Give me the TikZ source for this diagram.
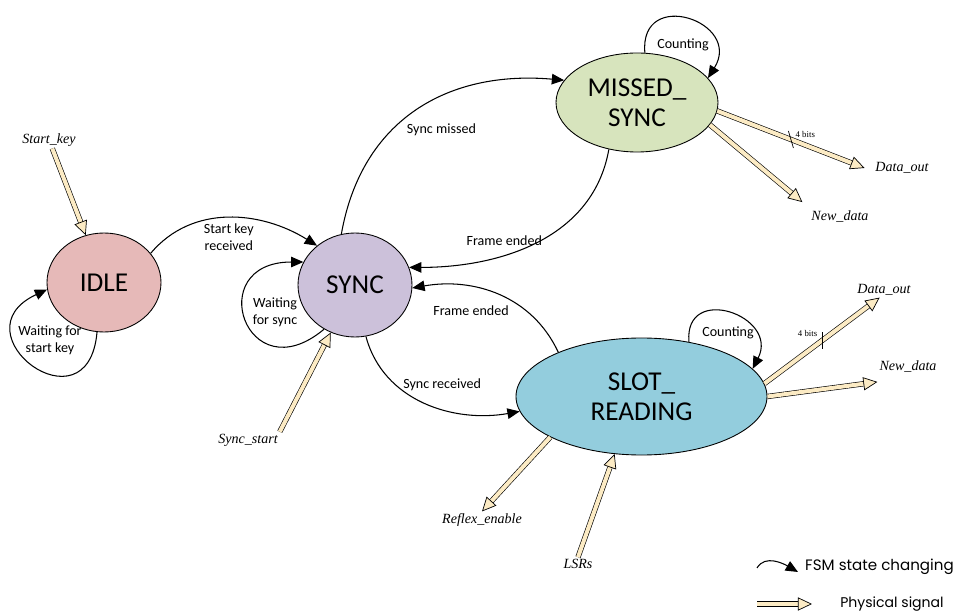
\documentclass[tikz,border=0pt]{standalone}
\usepackage{fontspec}
\setmainfont{Carlito}
\newfontfamily\sigfont{Liberation Serif}
\newfontfamily\legfont{Poppins}
\usetikzlibrary{arrows.meta, shapes.geometric, positioning}
\definecolor{idlered}{HTML}{E6B9B8}
\definecolor{syncpurple}{HTML}{CCC1DA}
\definecolor{missgreen}{HTML}{D7E4BD}
\definecolor{slotblue}{HTML}{93CDDD}
\definecolor{wire}{HTML}{FCEBC4}

\begin{document}
\begin{tikzpicture}[
    state/.style={
        ellipse,
        draw=black,
        line width=0.5pt,
        inner sep=0pt,
        align=center,
        font=\fontsize{15.5}{17}\selectfont,
    },
    fsm/.style={
        -{Triangle[length=7pt, width=6pt]},
        line width=0.6pt,
    },
    lbl/.style={
        font=\fontsize{8}{9.5}\selectfont,
        align=center,
        inner sep=1pt,
    },
    sig/.style={
        draw=black,
        line width=0.35pt,
        double=wire,
        double distance=2.3pt,
        -{Triangle[length=8pt, width=7.5pt, fill=wire, line width=0.4pt]},
    },
    signame/.style={
        font=\sigfont\itshape\fontsize{8}{9.5}\selectfont,
        inner sep=1pt,
    },
    bits/.style={
        font=\sigfont\fontsize{5}{6}\selectfont,
        inner sep=0.5pt,
    },
]
\useasboundingbox (0,0) rectangle (19.16,12.26);

% --- States ---
\node[state, fill=idlered, minimum width=2.28cm, minimum height=1.98cm] (idle) at (2.08,6.61) {IDLE};
\node[state, fill=syncpurple, minimum width=2.28cm, minimum height=2.08cm] (sync) at (7.1,6.56) {SYNC};
\node[state, fill=missgreen, minimum width=3.24cm, minimum height=1.98cm] (missed) at (12.74,10.21) {MISSED\_\\SYNC};
\node[state, fill=slotblue, minimum width=5.02cm, minimum height=2.34cm] (slot) at (12.83,4.33) {SLOT\_\\READING};

% --- Signal names ---
\node[signame] (startkey) at (0.98,9.46) {Start\_key};
\node[signame] (syncstart) at (4.96,3.46) {Sync\_start};
\node[signame] (reflex) at (9.64,1.86) {Reflex\_enable};
\node[signame] (lsrs) at (11.56,0.98) {LSRs};
\node[signame] (dout1) at (18.04,8.9) {Data\_out};
\node[signame] (ndata1) at (16.8,7.92) {New\_data};
\node[signame] (dout2) at (17.68,6.46) {Data\_out};
\node[signame] (ndata2) at (18.16,4.92) {New\_data};

% --- State changes ---
\draw[fsm] (idle.32) to[out=50, in=148]
    node[lbl, pos=0.5, below=2pt] (lstartkey) {Start key\\received} (sync.134);
\draw[fsm] (sync.105) to[out=80, in=175, looseness=1.1]
    node[lbl, pos=0.6, below=14pt] (lmissed) {Sync missed} (missed.163);
\draw[fsm] (missed.-121) to[out=-100, in=0]
    node[lbl, pos=0.64, above=4pt] (lframe1) {Frame ended} (sync.18);
\draw[fsm] (slot.152) to[out=115, in=10]
    node[lbl, pos=0.67, below=9pt] (lframe2) {Frame ended} (sync.-3);
\draw[fsm] (sync.-78) to[out=-75, in=190]
    node[lbl, pos=0.6, above=9pt] (lsyncrx) {Sync received} (slot.-173);

% self loops
\draw[fsm] (idle.-98) to[out=-95, in=205, looseness=4] (idle.187);
\node[lbl] (lwaitkey) at (1.0,5.46) {Waiting for\\start key};
\draw[fsm] (sync.-125) to[out=220, in=180, looseness=3.7] (sync.156);
\node[lbl] (lwaitsync) at (5.5,6.02) {Waiting\\for sync};
\draw[fsm] (missed.81) to[out=95, in=58, looseness=2.5] (missed.19);
\node[lbl] (lcount1) at (13.66,11.36) {Counting};
\draw[fsm] (slot.49) to[out=95, in=63, looseness=2.2] (slot.14.6);
\node[lbl] (lcount2) at (14.56,5.6) {Counting};

% --- Physical signals ---
\draw[sig] (startkey) -- (idle);
\draw[sig] (syncstart.north east) -- (sync.-117);
\draw[sig] (slot.-156) -- (reflex.north);
\draw[sig] (lsrs.north) -- (slot.-115);
\draw[sig] (missed.-6) -- coordinate[pos=0.5] (tick1) ([xshift=-5pt]dout1.west);
\draw[sig] (missed.-17) -- ([xshift=-4pt, yshift=4pt]ndata1.north west);
\draw[sig] (slot.6) -- coordinate[pos=0.5] (tick2) (dout2.240);
\draw[sig] (slot.0) -- ([yshift=-4pt]ndata2.south west);

% bus width marks
\draw[line width=0.4pt] (tick1) ++(-0.05,0.17) -- ++(0.1,-0.34);
\node[bits, anchor=west] (bits1) at ([xshift=2pt, yshift=3pt]tick1) {4 bits};
\draw[line width=0.4pt] (tick2) ++(0,0.17) -- ++(0,-0.34);
\node[bits, anchor=east] (bits2) at ([xshift=-2pt, yshift=4pt]tick2) {4 bits};

% --- Legend ---
\coordinate (legA) at (15.14,0.9);
\coordinate (legB) at (15.96,0.82);
\draw[fsm] (legA) to[out=60, in=150] (legB);
\node[anchor=west, font=\legfont\fontsize{8.6}{10}\selectfont] (legfsm) at (15.98,0.92) {FSM state changing};
\coordinate (legC) at (15.14,0.18);
\coordinate (legD) at (16.24,0.18);
\draw[sig] (legC) -- (legD);
\node[font=\legfont\fontsize{8}{9.5}\selectfont] (legsig) at (17.84,0.18) {Physical signal};

\end{tikzpicture}
\end{document}
